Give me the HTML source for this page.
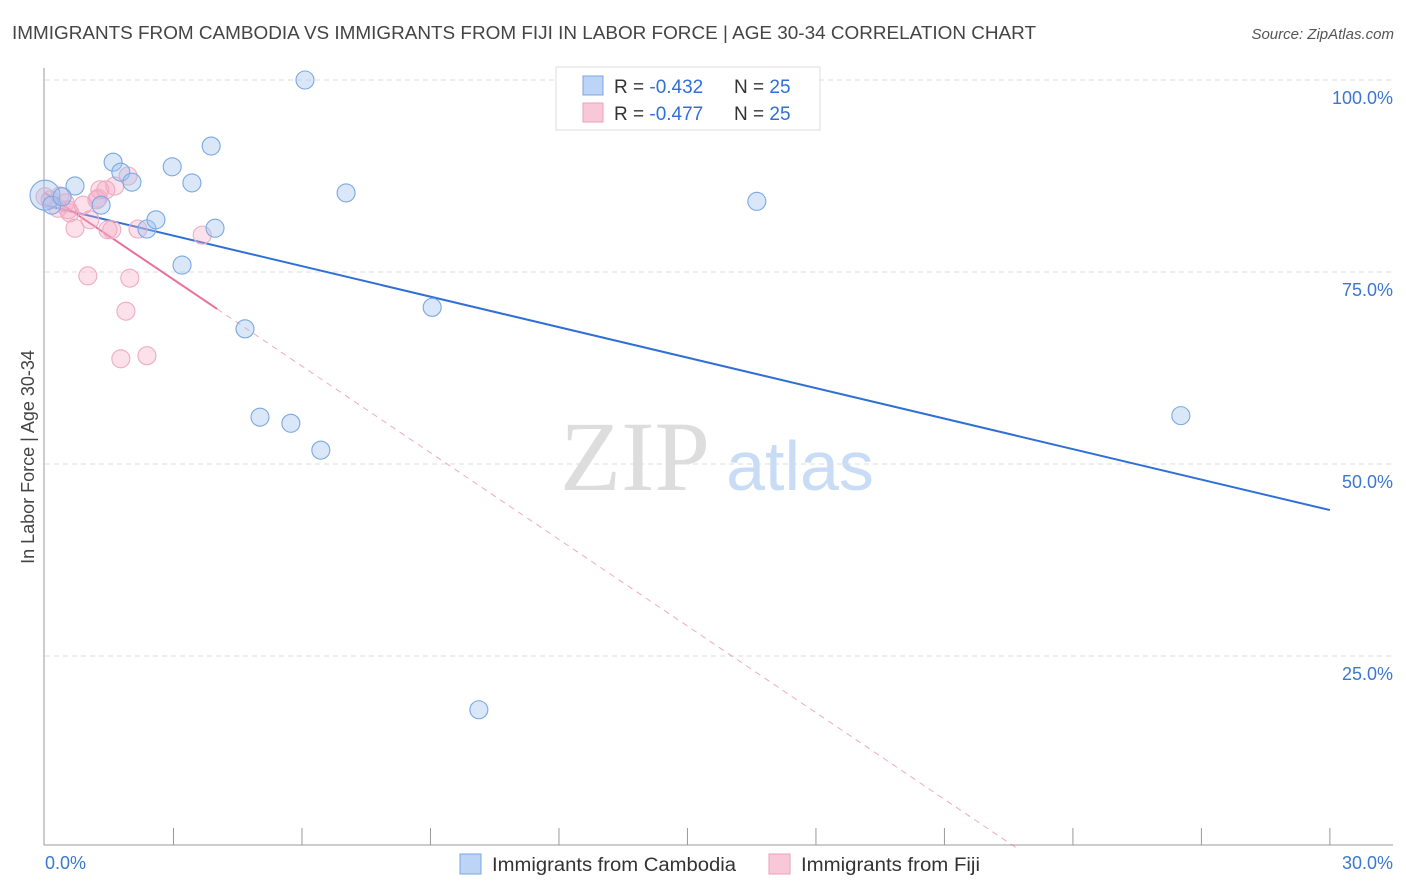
<!DOCTYPE html>
<html><head><meta charset="utf-8"><style>
body{margin:0;background:#fff;font-family:"Liberation Sans",sans-serif}
svg{display:block}
</style></head><body>
<svg id="c" width="1406" height="892">
<text x="12" y="39" font-size="18" fill="#444" textLength="1024" lengthAdjust="spacingAndGlyphs">IMMIGRANTS FROM CAMBODIA VS IMMIGRANTS FROM FIJI IN LABOR FORCE | AGE 30-34 CORRELATION CHART</text>
<text x="1394" y="39" font-size="15" fill="#555" text-anchor="end" font-style="italic">Source: ZipAtlas.com</text>
<text x="635" y="490" font-size="100" fill="#ddd" font-family="Liberation Serif" text-anchor="middle">ZIP</text>
<text x="800" y="490" font-size="70" fill="#c8dcf5" text-anchor="middle">atlas</text>
<g id="grid"></g>
<line x1="44" y1="68" x2="44" y2="845" stroke="#999"/>
<line x1="44" y1="845" x2="1393" y2="845" stroke="#999"/>
<g id="ticks"></g>
<g id="lines"></g>
<g id="pts"></g>
<text transform="translate(34,457) rotate(-90)" font-size="18" fill="#444" text-anchor="middle">In Labor Force | Age 30-34</text>
<text x="45" y="869" font-size="18" fill="#3a78d0">0.0%</text>
<text x="1393" y="869" font-size="18" fill="#3a78d0" text-anchor="end">30.0%</text>
<g>
<rect x="556" y="67" width="264" height="63" fill="#fff" stroke="#ddd"/>
<rect x="583" y="76" width="20" height="19" fill="#bcd4f5" stroke="#7aa6e2"/>
<rect x="583" y="103" width="20" height="19" fill="#f9c8d8" stroke="#eaa0bb"/>
<text x="614" y="93" font-size="19" fill="#333">R = <tspan fill="#2f6fd6">-0.432</tspan></text>
<text x="734" y="93" font-size="19" fill="#333">N = <tspan fill="#2f6fd6">25</tspan></text>
<text x="614" y="120" font-size="19" fill="#333">R = <tspan fill="#2f6fd6">-0.477</tspan></text>
<text x="734" y="120" font-size="19" fill="#333">N = <tspan fill="#2f6fd6">25</tspan></text>
</g>
<g>
<rect x="460" y="854" width="21" height="20" fill="#bcd4f5" stroke="#7aa6e2"/>
<text x="492" y="871" font-size="19" fill="#333" textLength="244" lengthAdjust="spacingAndGlyphs">Immigrants from Cambodia</text>
<rect x="769" y="854" width="21" height="20" fill="#f9c8d8" stroke="#eaa0bb"/>
<text x="801" y="871" font-size="19" fill="#333" textLength="179" lengthAdjust="spacingAndGlyphs">Immigrants from Fiji</text>
</g>
</svg>
<script>
const yTicks=[100,75,50,25];
const yTickLabels=["100.0%","75.0%","50.0%","25.0%"];
const xTicks=[3,6,9,12,15,18,21,24,27,30];
const cambodiaX=[0.0,0.16,0.70,0.40,1.31,1.59,1.77,2.03,2.38,2.59,2.97,3.20,3.43,3.88,3.97,4.67,5.02,5.74,6.07,6.44,7.03,9.04,10.13,16.62,26.52];
const cambodiaY=[85.0,83.7,86.2,84.8,83.7,89.3,88.0,86.7,80.6,81.8,88.7,75.9,86.6,91.4,80.7,67.6,56.1,55.3,100.0,51.8,85.3,70.4,18.0,84.2,56.3];
const fijiX=[0.0,0.12,0.35,0.47,0.58,0.70,0.89,1.0,1.05,1.21,1.28,1.47,1.56,1.63,1.94,1.42,1.98,1.89,1.77,2.38,2.17,3.67,1.24,0.54,0.30];
const fijiY=[84.8,84.4,84.9,84.0,82.7,80.7,83.7,74.5,81.8,84.4,85.7,80.5,80.5,86.2,87.5,85.7,74.2,69.9,63.7,64.1,80.6,79.8,84.6,83.1,83.3];
const cambodiaTrend=[83.7,44.0];
const fijiTrend=[85.3,-3.76];
const fijiSolidEnd=4.02;
const NS="http://www.w3.org/2000/svg";
const sx=v=>45+v*42.83, sy=v=>80+(100-v)*7.68;
function mk(tag,attrs,parent){const e=document.createElementNS(NS,tag);for(const k in attrs)e.setAttribute(k,attrs[k]);document.getElementById(parent).appendChild(e);return e;}
yTicks.forEach((t,i)=>{
 const l=mk('line',{x1:45,x2:1393,y1:sy(t),y2:sy(t),stroke:'#ddd','stroke-dasharray':'5,4'},'grid');
 
 
 const tx=mk('text',{x:1393,y:sy(t)+24,'font-size':18,fill:'#3a78d0','text-anchor':'end'},'grid');
 tx.textContent=yTickLabels[i];
 
 
});
xTicks.forEach(t=>{
 const l=mk('line',{x1:sx(t),x2:sx(t),y1:828,y2:845,stroke:'#999'},'ticks');
 
 
});
function dots(xs,ys,fill,stroke,name){
 xs.forEach((x,i)=>{
  const c=mk('circle',{cx:sx(x),cy:sy(ys[i]),r:(i===0&&name==='cambodia-point')?15:9,fill:fill,stroke:stroke,'stroke-width':1.1},'pts');
  
  
 });
}
dots(fijiX,fijiY,'rgba(245,170,195,0.35)','#eeabc3','fiji-point');
dots(cambodiaX,cambodiaY,'rgba(160,195,240,0.4)','#7aa8e2','cambodia-point');
let b=mk('line',{x1:sx(0),y1:sy(cambodiaTrend[0]),x2:sx(30),y2:sy(cambodiaTrend[1]),stroke:'#2f6fd6','stroke-width':2},'lines');


const fEnd=-fijiTrend[0]/fijiTrend[1];
let pd=mk('line',{x1:sx(fijiSolidEnd),y1:sy(fijiTrend[0]+fijiTrend[1]*fijiSolidEnd),x2:sx(fEnd),y2:sy(0),stroke:'#e8709a','stroke-width':1,'stroke-dasharray':'6,5','opacity':0.6},'lines');


let p=mk('line',{x1:sx(0),y1:sy(fijiTrend[0]),x2:sx(fijiSolidEnd),y2:sy(fijiTrend[0]+fijiTrend[1]*fijiSolidEnd),stroke:'#e8709a','stroke-width':2},'lines');


</script>
</body></html>
